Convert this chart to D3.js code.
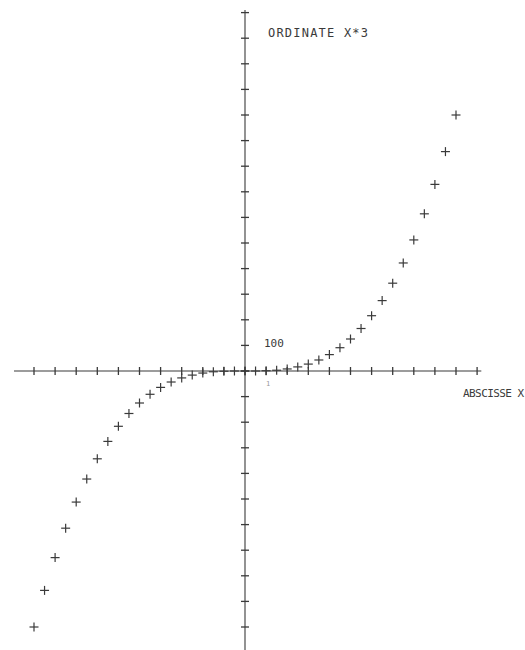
<!DOCTYPE html>
<html>
<head>
<meta charset="utf-8">
<script src="https://cdn.jsdelivr.net/npm/d3@7"></script>
<style>
  body { margin: 0; background: #fff; }
  svg { display: block; }
</style>
</head>
<body>
<div class="plot"></div>
<script>
// abscissa values of the plotted points
const xs = [-10, -9.5, -9, -8.5, -8, -7.5, -7, -6.5, -6, -5.5, -5, -4.5, -4, -3.5, -3, -2.5, -2, -1.5, -1, -0.5,
            0, 0.5, 1, 1.5, 2, 2.5, 3, 3.5, 4, 4.5, 5, 5.5, 6, 6.5, 7, 7.5, 8, 8.5, 9, 9.5, 10];
// ordinate values
const ys = [-1000, -857, -729, -614, -512, -422, -343, -275, -216, -166, -125, -91, -64, -43, -27, -16, -8, -3, -1, 0,
            0, 0, 1, 3, 8, 16, 27, 43, 64, 91, 125, 166, 216, 275, 343, 422, 512, 614, 729, 857, 1000];

// axis ticks
const xTicks = [-10, -9, -8, -7, -6, -5, -4, -3, -2, -1, 0, 1, 2, 3, 4, 5, 6, 7, 8, 9, 10, 11];
const yTicks = [-1100, -1000, -900, -800, -700, -600, -500, -400, -300, -200, -100, 0,
                100, 200, 300, 400, 500, 600, 700, 800, 900, 1000, 1100, 1200, 1300, 1400];

const width = 525;
const height = 650;
const ink = '#3a3a3a';

const svg = d3.select('.plot')
    .append('svg')
    .attr('width', width)
    .attr('height', height);

const x = d3.scaleLinear().domain([-10, 10]).range([34, 456]);
const y = d3.scaleLinear().domain([-1000, 1000]).range([627, 115]);

const points = xs.map((v, i) => ({x: v, y: ys[i]}));

// x axis line
svg.append('line')
    .attr('x1', x(-10.95)).attr('x2', x(11.2))
    .attr('y1', y(0)).attr('y2', y(0))
    .attr('stroke', ink).attr('stroke-width', 1.1);

// y axis line
svg.append('line')
    .attr('x1', x(0)).attr('x2', x(0))
    .attr('y1', y(1410)).attr('y2', y(-1200))
    .attr('stroke', ink).attr('stroke-width', 1.1);

// x ticks
svg.selectAll('.xtick')
    .data(xTicks)
    .enter()
    .append('line')
    .attr('class', 'xtick')
    .attr('x1', d => x(d)).attr('x2', d => x(d))
    .attr('y1', y(0) - 4).attr('y2', y(0) + 4)
    .attr('stroke', ink).attr('stroke-width', 1.3);

// y ticks
svg.selectAll('.ytick')
    .data(yTicks)
    .enter()
    .append('line')
    .attr('class', 'ytick')
    .attr('x1', x(0) - 4).attr('x2', x(0) + 4)
    .attr('y1', d => y(d)).attr('y2', d => y(d))
    .attr('stroke', ink).attr('stroke-width', 1.3);

// plus markers
const marks = svg.selectAll('.pt')
    .data(points)
    .enter()
    .append('g')
    .attr('class', 'pt')
    .attr('transform', d => `translate(${x(d.x)},${y(d.y)})`);

marks.append('line')
    .attr('x1', -4.5).attr('x2', 4.5).attr('y1', 0).attr('y2', 0)
    .attr('stroke', ink).attr('stroke-width', 1.2);
marks.append('line')
    .attr('x1', 0).attr('x2', 0).attr('y1', -4.5).attr('y2', 4.5)
    .attr('stroke', ink).attr('stroke-width', 1.2);

// labels
svg.append('text')
    .text('ORDINATE X*3')
    .attr('x', x(0) + 23).attr('y', y(1400) + 24)
    .attr('textLength', 100)
    .attr('font-family', 'DejaVu Sans Mono')
    .attr('font-size', 12)
    .attr('fill', ink);

svg.append('text')
    .text('ABSCISSE X')
    .attr('x', 463).attr('y', y(0) + 26)
    .attr('textLength', 61)
    .attr('font-family', 'DejaVu Sans Mono')
    .attr('font-size', 11)
    .attr('fill', ink);

svg.append('text')
    .text('100')
    .attr('x', x(0) + 19).attr('y', y(100) + 2)
    .attr('font-family', 'DejaVu Sans Mono')
    .attr('font-size', 11)
    .attr('fill', ink);

svg.append('text')
    .text('1')
    .attr('x', x(1)).attr('y', y(0) + 15)
    .attr('font-family', 'DejaVu Sans Mono')
    .attr('font-size', 7)
    .attr('fill', '#999');
</script>
</body>
</html>
